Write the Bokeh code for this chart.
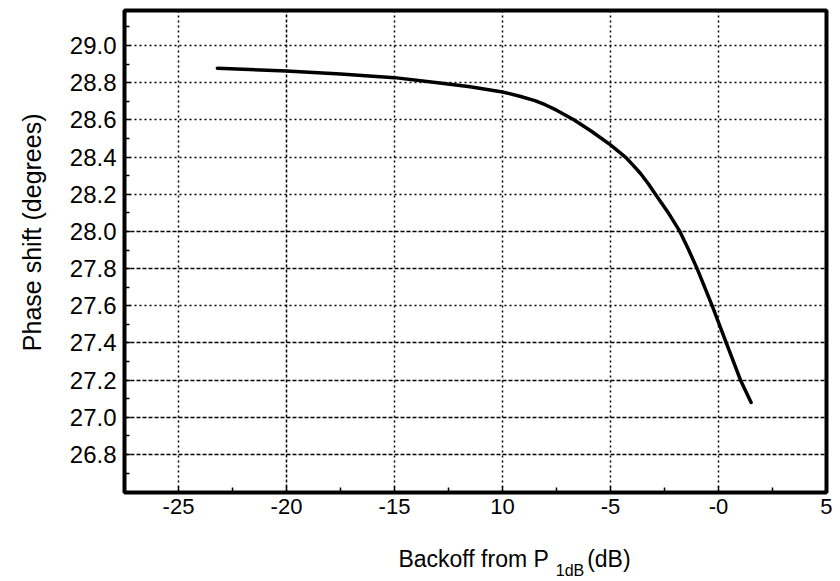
import math
from bokeh.plotting import figure
from bokeh.models import Range1d, FixedTicker, Grid, LinearAxis, PrintfTickFormatter
from bokeh.embed import file_html
from bokeh.resources import INLINE

# ---- data ----
backoff_db = [-23.2, -20.0, -17.5, -15.0, -13.0, -11.5, -10.0, -9.2, -8.5, -8.0,
              -7.5, -6.7, -5.9, -5.0, -4.31, -4.0, -3.6, -3.25, -2.92, -2.35,
              -1.79, -1.4, -0.99, -0.29, 0.36, 1.02, 1.51]
phase_deg = [28.878, 28.862, 28.847, 28.827, 28.80, 28.778, 28.75, 28.727, 28.703, 28.68,
             28.652, 28.60, 28.54, 28.465, 28.40, 28.362, 28.31, 28.256, 28.20, 28.105,
             28.00, 27.905, 27.80, 27.60, 27.40, 27.20, 27.08]

x_ticks = [-25, -20, -15, -10, -5, 0, 5]
x_tick_labels = ["-25", "-20", "-15", "10", "-5", "-0", "5"]
x_minor = [-27.5, -22.5, -17.5, -12.5, -7.5, -2.5, 2.5]
y_ticks = [26.8, 27.0, 27.2, 27.4, 27.6, 27.8, 28.0, 28.2, 28.4, 28.6, 28.8, 29.0]
y_minor = [26.7, 26.9, 27.1, 27.3, 27.5, 27.7, 27.9, 28.1, 28.3, 28.5, 28.7, 28.9, 29.1]
y_grid_dotted = [27.6, 28.2, 28.4, 28.6, 28.8, 29.0]
y_grid_dashed = [26.8, 27.0, 27.2, 27.4, 27.8, 28.0]
x_grid_dotted = [-25, -15, -10, -5, 0]
x_grid_dashed = [-20]

x_title = "Backoff from P"
x_title_sub = "1dB"
x_title_unit = "(dB)"
y_title = "Phase shift (degrees)"

FONT = "Liberation Sans"

p = figure(width=832, height=581, output_backend="svg", toolbar_location=None,
           x_range=Range1d(-27.5, 5), y_range=Range1d(26.596, 29.188),
           min_border_left=124, min_border_right=6, min_border_top=10,
           min_border_bottom=89)
p.grid.visible = False
p.outline_line_color = "black"
p.outline_line_width = 4
p.outline_line_alpha = 1.0
p.background_fill_color = "white"
p.border_fill_color = "white"

# axes
p.xaxis.ticker = FixedTicker(ticks=x_ticks, minor_ticks=x_minor)
p.xaxis.major_label_overrides = {t: lab for t, lab in zip(x_ticks, x_tick_labels)}
p.yaxis.ticker = FixedTicker(ticks=y_ticks, minor_ticks=y_minor)
p.yaxis.formatter = PrintfTickFormatter(format="%.1f")
for ax in (p.xaxis, p.yaxis):
    ax.axis_line_color = None
    ax.major_tick_in = 6
    ax.major_tick_out = 0
    ax.minor_tick_in = 5
    ax.minor_tick_out = 0
    ax.major_tick_line_width = 1.5
    ax.minor_tick_line_width = 1.5
    ax.major_tick_line_color = "black"
    ax.minor_tick_line_color = "black"
    ax.major_label_text_font = FONT
    ax.major_label_text_color = "black"
p.xaxis.major_label_text_font_size = "22px"
p.yaxis.major_label_text_font_size = "24px"
p.xaxis.major_label_standoff = 6
p.yaxis.major_label_standoff = 8

# grids
def add_grid(dim, ticks, dash):
    g = Grid(dimension=dim, ticker=FixedTicker(ticks=ticks),
             grid_line_color="black", grid_line_width=1.5, grid_line_dash=dash)
    p.add_layout(g)

add_grid(1, y_grid_dotted, "2 3")
add_grid(1, y_grid_dashed, "4 2")
add_grid(0, x_grid_dotted, "2 3")
add_grid(0, x_grid_dashed, "3 2")

# curve
p.line(backoff_db, phase_deg, line_color="black", line_width=3.5, line_cap="round",
       line_join="round")

# axis titles, drawn as labels of tick-less extra axes so they sit outside the frame
def title_axis(pos, text, size, standoff, orientation="horizontal"):
    return LinearAxis(ticker=FixedTicker(ticks=[pos], minor_ticks=[]),
                      major_label_overrides={pos: text},
                      axis_line_color=None, major_tick_line_color=None,
                      minor_tick_line_color=None, major_tick_in=0, major_tick_out=0,
                      minor_tick_in=0, minor_tick_out=0,
                      major_label_standoff=standoff, major_label_text_font=FONT,
                      major_label_text_font_size=size, major_label_text_color="black",
                      major_label_orientation=orientation)

NBSP = "\u00a0"
p.add_layout(title_axis(-9.444, x_title + NBSP * 6 + x_title_unit, "23px", 29), "below")
p.add_layout(title_axis(-6.875, x_title_sub, "16px", -13), "below")
p.add_layout(title_axis(28.634, y_title, "25px", 34, math.pi / 2), "left")

open("out.html", "w").write(file_html(p, INLINE))
